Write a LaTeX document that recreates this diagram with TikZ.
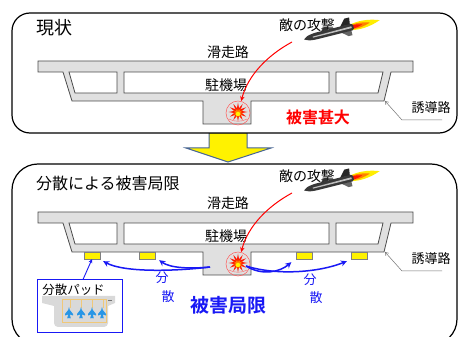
\documentclass[tikz,border=0pt]{standalone}
\usepackage{fontspec}
\setmainfont{Noto Sans CJK JP}[BoldFont={Noto Sans CJK JP Bold}]
\usetikzlibrary{arrows.meta,shapes.geometric,calc}

\definecolor{spreadblue}{RGB}{25,25,245}
\definecolor{arrowedge}{RGB}{70,100,150}
\definecolor{jetblue}{RGB}{40,150,230}
\definecolor{routeline}{RGB}{240,200,120}
\definecolor{fieldgrey}{RGB}{224,224,224}

\tikzset{
  panel/.style={draw=black, line width=1.2pt, fill=white},
  field/.style={fill=fieldgrey, draw=black!70, line width=0.8pt},
  lbl/.style={inner sep=0pt, font=\fontsize{14}{14}\selectfont},
  leader/.style={draw=black!55, line width=0.5pt, -{Straight Barb[length=3pt,width=4pt]}},
  hit/.style={draw=red, line width=1pt, -{Stealth[length=5pt,width=4.5pt]}},
  spread/.style={draw=spreadblue, line width=1.5pt, -{Stealth[length=6pt,width=6pt]}},
  padlink/.style={draw=spreadblue, line width=0.9pt, -{Stealth[length=4pt,width=4pt]}},
  padbox/.style={fill=yellow, draw=black!50, line width=0.4pt, minimum width=16pt, minimum height=7pt, inner sep=0pt},
  blastring/.style={circle, draw=red!65, line width=0.5pt, minimum size=24pt, inner sep=0pt},
  burst/.style={star, star points=12, star point ratio=2.4, inner sep=0pt},
  jet/.style={fill=jetblue},
}

% exhaust, fins and body of the incoming missile
\newcommand\drawmissile{%
  \begin{scope}[shift={(304,39)}, rotate=14]
    \fill[yellow!95!orange] (50,-3.2) .. controls (60,-5) and (70,-3) .. (78,0) .. controls (70,3) and (60,5) .. (50,3.2) -- cycle;
    \fill[orange] (50,-2.3) .. controls (56,-3.2) and (62,-2) .. (68,0) .. controls (62,2) and (56,3.2) .. (50,2.3) -- cycle;
    \fill[red!85!orange] (50,-1.6) .. controls (54,-1.9) and (57,-1) .. (60,0) .. controls (57,1) and (54,1.9) .. (50,1.6) -- cycle;
    \fill[black!85] (38,-3) -- (44,-10) -- (49,-10) -- (48,-3) -- cycle;
    \fill[black!60] (38,3) -- (44,8) -- (48,8) -- (48,3) -- cycle;
    \fill[black!80] (18,-3) -- (22,-6.5) -- (25,-6.5) -- (25,-3) -- cycle;
    \fill[black!78] (0,0.5) .. controls (4,-2.5) .. (12,-3.4) -- (49,-3.4) -- (51,-2) -- (51,2) -- (49,3.4) -- (12,3.4) .. controls (5,3) .. (0,0.5) -- cycle;
    \fill[black!25] (9,-0.2) -- (49,-0.9) -- (49,0.9) -- (9,0.9) -- cycle;
  \end{scope}}

% runway, taxiways, apron, labels, strike
\newcommand\drawairfield{%
  \path[field, even odd rule]
    (38,61) -- (413,61) -- (413,72) -- (391,72) -- (384,101) -- (251,101) -- (251,124)
      -- (203,124) -- (203,101) -- (72,101) -- (63,72) -- (38,72) -- cycle
    (69,72) -- (117,72) -- (117,93) -- (75,93) -- cycle
    (124,72) -- (329,72) -- (329,93) -- (124,93) -- cycle
    (336,72) -- (383,72) -- (378,93) -- (336,93) -- cycle;
  \node[lbl] (rw) at (228,52) {滑走路};
  \node[lbl] (apron) at (226,85) {駐機場};
  \node[lbl, font=\fontsize{13}{13}\selectfont] (guide) at (431,108) {誘導路};
  \coordinate (g1) at (442,120);
  \coordinate (g2) at (402,120);
  \coordinate (g3) at (385,101);
  \draw[leader] (g1) -- (g2) -- (g3);
  \node[lbl] (foe) at (307,25) {敵の攻撃};
  \drawmissile
  \node[blastring] (blast) at (238,113) {};
  \node[burst, fill=red!85!orange, minimum size=19pt] (burstA) at (238,112) {};
  \node[burst, fill=orange, minimum size=11pt] (burstB) at (238,113) {};
  \node[circle, fill=yellow, minimum size=4.5pt, inner sep=0pt] (burstC) at (238,114) {};
  \draw[red!60, line width=0.4pt] (229,119) .. controls (234,122) and (242,122) .. (247,119);
  \coordinate (atk) at (292,42);
  \draw[hit] (atk) .. controls (268,55) and (248,75) .. (blast.75);
}

\begin{document}
\begin{tikzpicture}[x=1pt, y=-1pt]
  \useasboundingbox (0,0) rectangle (459,337);
  \clip (0,0) rectangle (459,337);
  \fill[white] (0,0) rectangle (459,337);

  % transition arrow between the two situations
  \draw[fill=yellow, draw=arrowedge, line width=1pt]
    (209,133) -- (247,133) -- (247,148) -- (271,148) -- (228,162) -- (186,148) -- (209,148) -- cycle;

  % current situation
  \draw[panel, rounded corners=18pt] (12,13) rectangle (457,133);
  \node[lbl, font=\fontsize{18}{18}\selectfont] (title1) at (55,28) {現状};
  \begin{scope}[name prefix=top-]
    \drawairfield
  \end{scope}
  \node[lbl, font=\bfseries\fontsize{16}{16}\selectfont, text=red] (loss1) at (318,117) {被害甚大};

  % dispersed situation
  \draw[panel, rounded corners=26pt] (12,164) rectangle (457,345);
  \node[lbl, font=\fontsize{16}{16}\selectfont, anchor=west] (title2) at (36,183) {分散による被害局限};
  \begin{scope}[shift={(0,151)}, name prefix=bot-]
    \drawairfield
  \end{scope}

  % dispersal pads
  \node[padbox] (p1) at (92,255.5) {};
  \node[padbox] (p2) at (147,255.5) {};
  \node[padbox] (p3) at (304.5,255.5) {};
  \node[padbox] (p4) at (359,255.5) {};

  \coordinate (sL) at (210,267);
  \coordinate (sR) at (246,266);
  \draw[spread] (sL) .. controls (178,271) and (125,273) .. ($(p1.south east)+(3,2)$);
  \draw[spread] (sL) .. controls (190,269) and (170,268) .. ($(p2.south east)+(4,1)$);
  \draw[spread] (sR) .. controls (262,276) and (280,272) .. ($(p3.south west)+(-5,3)$);
  \draw[spread] (sR) .. controls (278,276) and (320,272) .. ($(p4.south west)+(-4,2)$);

  \node[lbl, font=\fontsize{13}{13}\selectfont, text=spreadblue] (dL1) at (162,278) {分};
  \node[lbl, font=\fontsize{13}{13}\selectfont, text=spreadblue] (dL2) at (168,297) {散};
  \node[lbl, font=\fontsize{13}{13}\selectfont, text=spreadblue] (dR1) at (310,280) {分};
  \node[lbl, font=\fontsize{13}{13}\selectfont, text=spreadblue] (dR2) at (316,298) {散};
  \node[lbl, font=\bfseries\fontsize{19}{19}\selectfont, text=spreadblue] (loss2) at (228,305) {被害局限};

  % pad detail inset
  \node[draw=spreadblue, line width=1pt, fill=white, minimum width=85pt, minimum height=53pt, inner sep=0pt] (inset) at (79.5,306.5) {};
  \node[lbl, font=\fontsize{12.5}{12.5}\selectfont] (insetlbl) at (73.5,290) {分散パッド};
  \fill[black!15] (42,296) -- (115,296) -- (115,303) -- (108,306)
    {[rounded corners=4pt] -- (108,327) -- (54,327)} -- (54,306) -- (42,303) -- cycle;
  \draw[black!55, line width=0.6pt] (108,300) -- (112,300);
  \draw[routeline, line width=0.6pt] (62,299) -- (107,299) (62,299) -- (62,322) -- (106,322) -- (106,299);
  \foreach \jx in {70,81,92,103} {
    \draw[routeline, line width=0.5pt] (\jx,299) -- (\jx,308);
  }
  \foreach \jx in {69,81,92,102} {
    \fill[jet] (\jx,307) -- (\jx+0.8,310) -- (\jx+4,314) -- (\jx+4,315.5) -- (\jx+0.8,314.5)
      -- (\jx+1.6,317.5) -- (\jx+1.6,318.5) -- (\jx,318) -- (\jx-1.6,318.5) -- (\jx-1.6,317.5)
      -- (\jx-0.8,314.5) -- (\jx-4,315.5) -- (\jx-4,314) -- (\jx-0.8,310) -- cycle;
  }
  \draw[padlink] ($(inset.north)+(3.5,0)$) -- (p1.south);
\end{tikzpicture}
\end{document}
